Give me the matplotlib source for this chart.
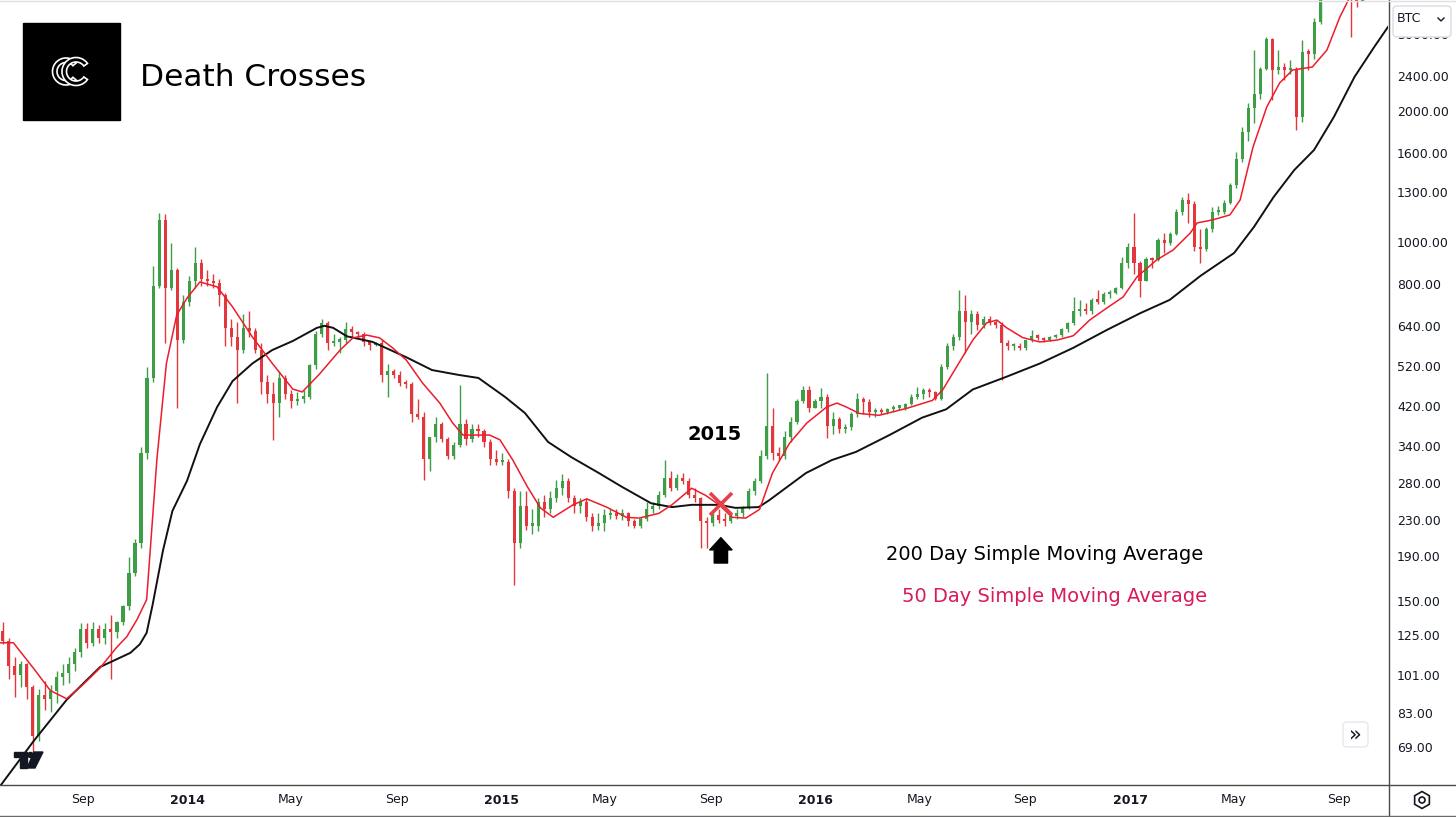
import matplotlib
matplotlib.use('Agg')
import matplotlib.pyplot as plt
import matplotlib.dates as mdates
from matplotlib.patches import Rectangle, FancyBboxPatch, RegularPolygon, Circle, Polygon, Wedge
from matplotlib.lines import Line2D
from matplotlib.transforms import IdentityTransform, blended_transform_factory
import numpy as np
import pandas as pd

# weekly BTC candles (weeks start Monday 2013-05-27)
first_open = 129
wk_close = [122, 107, 102, 108, 96, 74, 92, 90, 94, 101, 103, 108, 115, 130, 121, 130, 124, 130, 128, 135, 147, 175, 205, 330, 490, 800, 1130, 790, 870, 600, 735, 820,
            900, 830, 820, 810, 760, 640, 610, 570, 640, 630, 570, 480, 450, 430, 490, 450, 435, 440, 445, 525, 620, 655, 590, 595, 600, 635, 625, 620, 595, 585, 590, 500, 510, 500, 478, 475, 405, 400, 320, 360, 385, 355, 325, 345, 385, 355, 375, 370, 350, 320, 315, 315,
            270, 205, 250, 225, 225, 255, 245, 260, 275, 285, 260, 250, 255, 235, 225, 228, 238, 240, 237, 240, 230, 225, 233, 245, 250, 265, 290, 275, 290, 285, 265, 260, 230, 228, 238, 232, 230, 236, 240, 247, 270, 285, 325, 380, 330, 325, 360, 390, 435, 460, 420, 435,
            445, 380, 395, 375, 378, 405, 440, 432, 410, 412, 410, 416, 420, 420, 428, 445, 450, 460, 455, 440, 520, 580, 610, 700, 660, 690, 650, 670, 660, 650, 590, 580, 580, 575, 600, 612, 608, 600, 610, 615, 635, 655, 700, 705, 700, 740, 735, 765, 770, 790, 900, 980,
            900, 820, 920, 915, 1020, 1000, 1050, 1180, 1260, 1230, 980, 970, 1080, 1180, 1180, 1240, 1360, 1560, 1800, 2050, 2200, 2520, 2950, 2500, 2550, 2500, 2520, 1950, 2750, 2730, 3230, 3950, 4100, 4300, 4600, 4300, 3700, 3600, 4350, 4600, 5650, 5980, 6150]
wk_high = [135, 124, 112, 110, 109, 97, 95, 99, 97, 104, 108, 112, 118, 134, 134, 135, 133, 134, 140, 136, 148, 190, 210, 340, 520, 890, 1175, 1170, 1000, 880, 760, 840,
           980, 920, 870, 850, 830, 770, 670, 660, 690, 700, 640, 590, 500, 480, 510, 500, 460, 455, 460, 530, 630, 670, 665, 620, 610, 660, 645, 630, 625, 600, 595, 600, 530, 515, 510, 485, 480, 440, 410, 360, 400, 390, 360, 350, 474, 395, 385, 385, 375, 355, 335, 330,
           320, 275, 270, 270, 245, 260, 265, 270, 286, 295, 290, 265, 260, 260, 240, 240, 245, 245, 245, 245, 242, 233, 235, 255, 255, 270, 318, 300, 295, 297, 290, 275, 262, 235, 240, 245, 240, 240, 245, 250, 275, 290, 335, 504, 420, 340, 370, 400, 440, 470, 470, 440,
           466, 450, 410, 400, 385, 410, 453, 445, 440, 420, 418, 420, 425, 425, 430, 450, 469, 465, 465, 458, 530, 590, 620, 782, 760, 704, 700, 680, 680, 667, 660, 600, 590, 590, 600, 632, 620, 610, 612, 620, 640, 660, 754, 740, 730, 750, 782, 775, 780, 795, 930, 1000,
           1175, 910, 930, 930, 1030, 1057, 1060, 1200, 1280, 1305, 1250, 1080, 1090, 1210, 1220, 1260, 1380, 1620, 1850, 2100, 2784, 2550, 2977, 2960, 2780, 2600, 2640, 2540, 2938, 2800, 3300, 4000, 4450, 4350, 4800, 4700, 4350, 4100, 4350, 4450, 5800, 6000, 6200]
wk_low = [120, 100, 91, 96, 90, 68, 72, 85, 84, 88, 97, 98, 104, 112, 118, 119, 121, 120, 100, 124, 133, 144, 172, 200, 320, 480, 790, 590, 780, 420, 590, 720,
          790, 800, 800, 790, 720, 580, 580, 430, 560, 610, 560, 450, 430, 354, 400, 440, 420, 425, 430, 440, 515, 610, 570, 580, 560, 590, 610, 605, 580, 570, 580, 480, 444, 490, 470, 465, 390, 395, 286, 300, 350, 350, 320, 320, 340, 345, 350, 360, 340, 310, 310, 310,
          260, 164, 200, 220, 215, 218, 235, 240, 255, 265, 255, 240, 240, 230, 218, 220, 218, 233, 233, 232, 225, 222, 222, 230, 240, 245, 262, 270, 272, 280, 260, 255, 200, 200, 225, 228, 225, 228, 233, 235, 245, 265, 282, 320, 318, 318, 320, 350, 385, 430, 410, 418,
          420, 358, 365, 367, 367, 372, 400, 405, 400, 400, 405, 405, 410, 415, 415, 425, 440, 440, 445, 436, 436, 515, 570, 600, 560, 620, 632, 640, 650, 641, 486, 570, 570, 570, 569, 595, 600, 594, 596, 605, 610, 625, 650, 680, 690, 690, 725, 725, 750, 765, 785, 880,
          850, 754, 820, 880, 910, 950, 990, 1045, 1160, 1115, 960, 902, 960, 1060, 1160, 1170, 1230, 1340, 1540, 1720, 1890, 2150, 2500, 2140, 2450, 2380, 2450, 1822, 1900, 2500, 2650, 3200, 3900, 3950, 4250, 4000, 2977, 3500, 3600, 4100, 4550, 5100, 5400]

# 50 day SMA (red)
sma50_dates = ['2013-05-27', '2013-06-12', '2013-07-05', '2013-07-25', '2013-08-13', '2013-09-01', '2013-09-21', '2013-10-10', '2013-10-22', '2013-11-03',
               '2013-11-14', '2013-11-26', '2013-12-07', '2013-12-19', '2013-12-31', '2014-01-15', '2014-02-04', '2014-02-22', '2014-03-17', '2014-04-09',
               '2014-05-03', '2014-05-14', '2014-06-03', '2014-06-27', '2014-07-12', '2014-07-28', '2014-08-12', '2014-08-27', '2014-09-12', '2014-10-01',
               '2014-10-21', '2014-11-05', '2014-11-17', '2014-11-29', '2014-12-18', '2014-12-30', '2015-01-14', '2015-01-31', '2015-02-15', '2015-03-02',
               '2015-03-25', '2015-04-10', '2015-05-03', '2015-05-26', '2015-06-10', '2015-07-03', '2015-07-18', '2015-08-10', '2015-08-26', '2015-09-11',
               '2015-09-26', '2015-10-12', '2015-10-28', '2015-11-12', '2015-12-02', '2015-12-22', '2016-01-14', '2016-01-26', '2016-02-06', '2016-02-21',
               '2016-03-15', '2016-04-16', '2016-05-16', '2016-05-28', '2016-06-13', '2016-07-02', '2016-07-18', '2016-07-30', '2016-08-10', '2016-08-29',
               '2016-09-18', '2016-10-08', '2016-10-27', '2016-11-15', '2016-12-05', '2016-12-24', '2017-01-09', '2017-02-01', '2017-02-20', '2017-03-12',
               '2017-03-20', '2017-04-07', '2017-04-27', '2017-05-09', '2017-05-24', '2017-06-09', '2017-06-24', '2017-07-09', '2017-08-01', '2017-08-18',
               '2017-09-02', '2017-09-20', '2017-10-10', '2017-10-28']
sma50_vals = [121, 121, 106, 94, 90, 97, 106, 118, 125, 137,
              152, 320, 530, 685, 749, 816, 795, 715, 610, 531,
              463, 456, 501, 569, 607, 616, 607, 576, 540, 478,
              430, 387, 363, 363, 363, 354, 318, 276, 247, 235,
              251, 259, 248, 235, 234, 240, 251, 274, 264, 251,
              235, 234, 245, 297, 348, 387, 421, 430, 421, 407,
              403, 418, 436, 461, 520, 600, 657, 667, 641, 608,
              594, 600, 614, 667, 711, 754, 838, 917, 966, 1057,
              1115, 1133, 1163, 1259, 1666, 2059, 2338, 2503, 2543, 2783,
              3313, 3900, 4150, 4800]

# 200 day SMA (black)
sma200_dates = ['2013-05-27', '2013-07-05', '2013-08-13', '2013-09-21', '2013-10-26', '2013-11-06', '2013-11-14', '2013-11-21', '2013-12-03', '2013-12-14',
                '2013-12-31', '2014-01-15', '2014-02-04', '2014-02-22', '2014-03-17', '2014-04-09', '2014-05-03', '2014-05-31', '2014-06-09', '2014-06-19',
                '2014-07-05', '2014-08-04', '2014-09-12', '2014-10-12', '2014-11-12', '2014-12-05', '2015-01-05', '2015-01-28', '2015-02-24', '2015-03-23',
                '2015-04-24', '2015-05-21', '2015-06-24', '2015-07-18', '2015-08-10', '2015-09-11', '2015-09-30', '2015-10-27', '2015-11-08', '2015-12-21',
                '2016-01-20', '2016-02-17', '2016-03-27', '2016-05-04', '2016-06-01', '2016-07-02', '2016-08-10', '2016-09-18', '2016-10-27', '2016-12-05',
                '2017-01-13', '2017-02-16', '2017-03-24', '2017-05-02', '2017-05-25', '2017-06-17', '2017-07-11', '2017-08-03', '2017-08-26', '2017-09-19',
                '2017-10-12', '2017-10-28']
sma200_vals = [56.5, 71.7, 89.5, 106.5, 114.7, 120, 127.5, 148, 197, 243,
               285, 346, 421, 483, 530, 569, 597, 640, 647, 640,
               612, 594, 548, 512, 499, 491, 444, 408, 350, 323,
               297, 276, 253, 248, 251, 251, 247, 248, 257, 297,
               318, 332, 363, 398, 416, 462, 494, 530, 576, 633,
               692, 742, 843, 951, 1091, 1279, 1475, 1640, 1952, 2413,
               2828, 3144]

price_ticks = [69, 83, 101, 125, 150, 190, 230, 280, 340, 420, 520, 640, 800, 1000, 1300, 1600, 2000, 2400, 3000]
time_ticks = ['2013-09-01', '2014-01-01', '2014-05-01', '2014-09-01', '2015-01-01', '2015-05-01', '2015-09-01',
              '2016-01-01', '2016-05-01', '2016-09-01', '2017-01-01', '2017-05-01', '2017-09-01']
time_labels = ['Sep', '2014', 'May', 'Sep', '2015', 'May', 'Sep', '2016', 'May', 'Sep', '2017', 'May', 'Sep']

cross_date, cross_price = '2015-09-13', 252

W, H = 1456, 817
UP = '#3d9e45'
DOWN = '#e2383d'
TXT = '#131722'
plt.rcParams['font.family'] = ['DejaVu Sans']

fig = plt.figure(figsize=(W / 100, H / 100), dpi=100)
fig.patch.set_facecolor('white')
ax = fig.add_axes([0, 32 / H, 1388 / W, 785 / H])
ax.set_yscale('log')
ax.set_ylim(57.03, 3625)
ax.set_xlim(mdates.date2num(pd.Timestamp('2013-05-27 11:00')), mdates.date2num(pd.Timestamp('2017-10-28')))
for s in ax.spines.values():
    s.set_visible(False)
ax.set_xticks([])
ax.set_yticks([])
ax.yaxis.set_minor_locator(matplotlib.ticker.NullLocator())

# candles
weeks = pd.date_range('2013-05-27', periods=len(wk_close), freq='7D')
xs = mdates.date2num(weeks) + 3.5
c = np.array(wk_close, float)
o = np.r_[first_open, c[:-1]]
hi = np.array(wk_high, float)
lo = np.array(wk_low, float)
cols = np.where(c >= o, UP, DOWN)
ax.vlines(xs, lo, hi, colors=cols, lw=1, zorder=2)
body = np.maximum(np.abs(c - o), 0.012 * o)
ax.bar(xs, body, bottom=np.minimum(o, c), width=3.6, color=cols, linewidth=0, zorder=2)

# moving averages
ax.plot(pd.to_datetime(sma200_dates), sma200_vals, color='#111111', lw=1.4, zorder=3)
ax.plot(pd.to_datetime(sma50_dates), sma50_vals, color='#ee1c2a', lw=1.1, zorder=3)

# death cross marker and arrow
ax.plot(pd.Timestamp(cross_date), cross_price, marker='x', ms=16, mew=2.6, color='#e8404a', zorder=4)
ax.annotate('', xy=(pd.Timestamp(cross_date), 211), xytext=(pd.Timestamp(cross_date), 184.5),
            arrowprops=dict(arrowstyle='simple,head_length=0.55,head_width=1.0,tail_width=0.6',
                            color='black', shrinkA=0, shrinkB=0, mutation_scale=16), zorder=4)
ax.text(0.515, 1 - 435 / 785, '2015', transform=ax.transAxes, ha='center', va='center',
        fontsize=14, fontweight='bold', color='black')
ax.text(1203 / 1388, 1 - 555 / 785, '200 Day Simple Moving Average', transform=ax.transAxes,
        ha='right', va='center', fontsize=14, color='black')
ax.text(1207 / 1388, 1 - 597 / 785, '50 Day Simple Moving Average', transform=ax.transAxes,
        ha='right', va='center', fontsize=14, color='#d81b5a')

# price scale
tr_y = blended_transform_factory(ax.transAxes, ax.transData)
for p in price_ticks:
    ax.text(1 + 9 / 1388, p, f'{p:.2f}', transform=tr_y, ha='left', va='center',
            fontsize=9, color=TXT, clip_on=False)

# time scale
tr_x = blended_transform_factory(ax.transData, ax.transAxes)
for d, lab in zip(time_ticks, time_labels):
    ax.text(mdates.date2num(pd.Timestamp(d)), -15 / 785, lab, transform=tr_x, ha='center', va='center',
            fontsize=9, color=TXT, fontweight='bold' if lab.isdigit() else 'normal', clip_on=False)

# frame lines (pixel coords, y measured from top)
pix = IdentityTransform()


def P(x, y):
    return (x, H - y)


fig.add_artist(Line2D([1388.5, 1388.5], [0, H], transform=pix, color='#4a4a4a', lw=1))
fig.add_artist(Line2D([0, W], [H - 785, H - 785], transform=pix, color='#4a4a4a', lw=1))
fig.add_artist(Line2D([0, W], [H - 815.5, H - 815.5], transform=pix, color='#6a6a6a', lw=1))
fig.add_artist(Line2D([0, W], [H - 0.5, H - 0.5], transform=pix, color='#e0e0e0', lw=1))

# title block with the double C mark
fig.add_artist(Rectangle(P(23, 120), 97, 97, transform=pix, color='black'))
fig.add_artist(Wedge(P(66, 71.5), 13.5, 40, 320, width=4.5, transform=pix,
                     facecolor='black', edgecolor='white', lw=1.2))
fig.add_artist(Wedge(P(76, 71.5), 14, 35, 325, width=4.5, transform=pix,
                     facecolor='black', edgecolor='white', lw=1.2))
fig.text(140, H - 77, 'Death Crosses', transform=pix, ha='left', va='center', fontsize=22.5, color='black')

# BTC selector (covers the top price label, as in the source)
fig.add_artist(FancyBboxPatch(P(1393, 37), 58, 31, transform=pix, boxstyle='round,pad=0,rounding_size=4',
                              facecolor='white', edgecolor='#d9dce3', lw=1, zorder=5))
fig.text(1397, H - 19, 'BTC', transform=pix, ha='left', va='center', fontsize=9, color=TXT, zorder=6)
fig.add_artist(Line2D([1438, 1441, 1444], [H - 18, H - 21, H - 18], transform=pix, color=TXT, lw=1, zorder=6))

# scroll button
fig.add_artist(FancyBboxPatch(P(1343, 747), 25, 25, transform=pix, boxstyle='round,pad=0,rounding_size=4',
                              facecolor='white', edgecolor='#e6e8ee', lw=1, zorder=5))
fig.text(1355.5, H - 734, '»', transform=pix, ha='center', va='center', fontsize=15, color=TXT, zorder=6)

# settings icon
fig.add_artist(RegularPolygon(P(1422, 800), 6, radius=8.5, transform=pix, facecolor='none', edgecolor=TXT, lw=1.2))
fig.add_artist(Circle(P(1422, 800), 3, transform=pix, facecolor='none', edgecolor=TXT, lw=1.2))

# TradingView mark
fig.add_artist(Polygon([P(14, 752), P(27, 752), P(27, 768), P(20, 768), P(20, 757), P(14, 757)],
                       closed=True, transform=pix, color='#131722', zorder=4))
fig.add_artist(Circle(P(30.5, 755), 2.6, transform=pix, color='#131722', zorder=4))
fig.add_artist(Polygon([P(34, 752), P(43, 752), P(35, 768), P(27, 768)], closed=True, transform=pix,
                       color='#131722', zorder=4))

fig.savefig('out.png', dpi=100)
